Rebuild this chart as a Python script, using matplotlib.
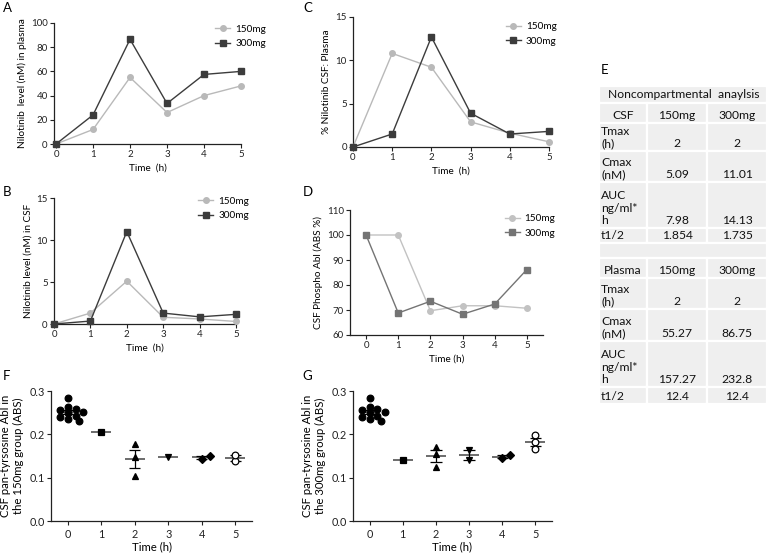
import matplotlib
matplotlib.use('Agg')
import matplotlib.pyplot as plt
from matplotlib.patches import Rectangle
import numpy as np

plt.rcParams['font.family'] = ['Lato', 'DejaVu Sans']

# ---- data ----
hours = [0, 1, 2, 3, 4, 5]
doses = ['150mg', '300mg']

plasma_150 = [0, 12, 55, 26, 40, 48]
plasma_300 = [0, 24, 86.5, 33.5, 57.5, 60]

csf_150 = [0, 1.3, 5.1, 0.8, 0.6, 0.3]
csf_300 = [0, 0.35, 11.0, 1.3, 0.85, 1.15]

ratio_150 = [0, 10.8, 9.2, 2.9, 1.6, 0.6]
ratio_300 = [0, 1.5, 12.7, 3.9, 1.5, 1.8]

phospho_150 = [100, 100, 69.7, 71.7, 71.7, 70.7]
phospho_300 = [100, 68.8, 73.5, 68.3, 72.4, 86.2]

# pan-tyrosine Abl, individual samples per hour
abl_150 = [
    [0.285, 0.262, 0.258, 0.256, 0.251, 0.249, 0.243, 0.240, 0.236, 0.231],
    [0.205],
    [0.178, 0.148, 0.103],
    [0.148],
    [0.144, 0.151],
    [0.139, 0.152],
]
abl_300 = [
    [0.285, 0.262, 0.258, 0.256, 0.251, 0.249, 0.243, 0.240, 0.236, 0.231],
    [0.141],
    [0.170, 0.155, 0.125],
    [0.165, 0.141],
    [0.145, 0.152],
    [0.198, 0.182, 0.166],
]
abl_markers = ['o', 's', '^', 'v', 'D', 'o']

table_rows = [
    ['CSF', '150mg', '300mg'],
    ['Tmax\n(h)', '2', '2'],
    ['Cmax\n(nM)', '5.09', '11.01'],
    ['AUC\nng/ml*\nh', '7.98', '14.13'],
    ['t1/2', '1.854', '1.735'],
    None,
    ['Plasma', '150mg', '300mg'],
    ['Tmax\n(h)', '2', '2'],
    ['Cmax\n(nM)', '55.27', '86.75'],
    ['AUC\nng/ml*\nh', '157.27', '232.8'],
    ['t1/2', '12.4', '12.4'],
]
table_title = 'Noncompartmental  anaylsis'

W, H = 767, 555
fig = plt.figure(figsize=(W / 100, H / 100), dpi=100)


def box(l, t, r, b):
    return fig.add_axes([l / W, 1 - b / H, (r - l) / W, (b - t) / H])


def style(ax, xlabel, ylabel, tick_fs=7, lab_fs=7.2):
    for s in ['top', 'right']:
        ax.spines[s].set_visible(False)
    for s in ['left', 'bottom']:
        ax.spines[s].set_linewidth(0.9)
        ax.spines[s].set_color('#222222')
    ax.tick_params(labelsize=tick_fs, length=3, width=0.8, pad=1.5,
                   colors='#222222')
    ax.set_xlabel(xlabel, fontsize=lab_fs, labelpad=3)
    ax.set_ylabel(ylabel, fontsize=lab_fs, labelpad=3)


def kinetics(ax, y150, y300, c150, c300, legpos):
    ax.plot(hours, y150, '-o', color=c150, ms=4, lw=1, clip_on=False,
            label=doses[0], zorder=3)
    ax.plot(hours, y300, '-s', color=c300, ms=4, lw=1, clip_on=False,
            label=doses[1], zorder=4)
    ax.legend(loc='upper left', bbox_to_anchor=legpos, frameon=False,
              fontsize=7.2, handlelength=1.5, handletextpad=0.5,
              labelspacing=0.55, borderaxespad=0)


light, dark = '#b9b9b9', '#3c3c3c'

# A
ax = box(54, 23, 241, 144)
kinetics(ax, plasma_150, plasma_300, light, dark, (0.84, 1.02))
ax.set_xlim(-0.055, 5)
ax.set_ylim(0, 100)
ax.set_yticks([0, 20, 40, 60, 80, 100])
style(ax, 'Time  (h)', 'Nilotinib  level (nM) in plasma')

# B
ax = box(54, 198, 236, 324)
kinetics(ax, csf_150, csf_300, light, dark, (0.77, 1.04))
ax.set_xlim(0, 5)
ax.set_ylim(0, 15)
ax.set_yticks([0, 5, 10, 15])
style(ax, 'Time  (h)', 'Nilotinib level (nM) in CSF')

# C
ax = box(353, 17, 549, 147)
kinetics(ax, ratio_150, ratio_300, light, dark, (0.76, 0.99))
ax.set_xlim(0, 5)
ax.set_ylim(0, 15)
ax.set_yticks([0, 5, 10, 15])
style(ax, 'Time  (h)', '% Nilotinib CSF: Plasma')

# D
ax = box(350, 210, 543, 335)
kinetics(ax, phospho_150, phospho_300, '#c2c2c2', '#747474', (0.78, 1.0))
ax.set_xlim(-0.5, 5.5)
ax.set_ylim(60, 110)
ax.set_yticks([60, 70, 80, 90, 100, 110])
style(ax, 'Time (h)', 'CSF Phospho Abl (ABS %)')


def swarm(vals, xscale, yscale, d=5.5):
    # simple beeswarm: shift points sideways until they don't overlap
    placed = []
    offs = []
    for v in vals:
        k = 0
        while True:
            cand = [0] if k == 0 else [k, -k]
            done = False
            for c in cand:
                x = c * d * 0.7
                ok = all((x - px) ** 2 + ((v - pv) * yscale) ** 2 >= d * d
                         for px, pv in placed)
                if ok:
                    placed.append((x, v))
                    offs.append(x / xscale)
                    done = True
                    break
            if done:
                break
            k += 1
    return np.array(offs)


def scatter_panel(ax, groups, ylabel):
    xscale = 33.0          # px per hour
    yscale = 130 / 0.3     # px per unit
    for i, vals in enumerate(groups):
        vals = np.array(vals)
        m = vals.mean()
        if len(vals) > 1:
            sem = vals.std(ddof=1) / np.sqrt(len(vals))
        else:
            sem = 0
        offs = swarm(vals, xscale, yscale)
        mk = abl_markers[i]
        face = 'white' if i == 5 else 'black'
        ax.plot(hours[i] + offs, vals, linestyle='none', marker=mk,
                ms=4.8 if mk != 'D' else 4, mfc=face, mec='black',
                mew=0.9, zorder=3)
        ax.hlines(m, hours[i] - 0.3, hours[i] + 0.3, color='#606060',
                  lw=1.3, zorder=2)
        if sem > 0:
            ax.vlines(hours[i], m - sem, m + sem, color='black', lw=0.9,
                      zorder=2)
            ax.hlines([m - sem, m + sem], hours[i] - 0.17, hours[i] + 0.17,
                      color='black', lw=0.9, zorder=2)
    ax.set_xlim(-0.5, 5.5)
    ax.set_ylim(0, 0.3)
    ax.set_xticks(hours)
    ax.set_yticks([0.0, 0.1, 0.2, 0.3])
    ax.set_yticklabels(['0.0', '0.1', '0.2', '0.3'])
    style(ax, 'Time (h)', ylabel, tick_fs=7.8, lab_fs=8.2)
    ax.tick_params(axis='x', pad=3)
    ax.xaxis.labelpad = 1
    ax.yaxis.labelpad = 4


ax = box(51, 391, 252, 521)
scatter_panel(ax, abl_150, 'CSF pan-tyrsosine Abl in\nthe 150mg group (ABS)')

ax = box(353, 391, 552, 521)
scatter_panel(ax, abl_300, 'CSF pan-tyrsosine Abl in\nthe 300mg group (ABS)')

# E: table
ax = box(599, 86, 767, 404)
ax.set_xlim(599, 767)
ax.set_ylim(404, 86)
ax.axis('off')
col_edges = [599, 647, 707, 767]
row_edges = [86, 103, 123, 151, 182, 228, 243, 258, 278, 309, 341, 387, 404]
cell_kw = dict(facecolor='#efefef', edgecolor='white', lw=1.6)
ax.add_patch(Rectangle((599, 86), 168, 17, **cell_kw))
ax.text(684, 95, table_title, ha='center', va='center', fontsize=8.7,
        color='#111111')
for r, row in enumerate(table_rows):
    top, bot = row_edges[r + 1], row_edges[r + 2]
    if row is None:
        ax.add_patch(Rectangle((599, top), 168, bot - top, **cell_kw))
        continue
    header = row[1] == '150mg'
    for c, txt in enumerate(row):
        l, rr = col_edges[c], col_edges[c + 1]
        ax.add_patch(Rectangle((l, top), rr - l, bot - top, **cell_kw))
        if c == 0 and not header:
            ax.text(l + 2, bot - 2, txt, ha='left', va='bottom', fontsize=8.7,
                    linespacing=1.15, color='#111111')
        else:
            ax.text((l + rr) / 2, bot - 2, txt, ha='center', va='bottom',
                    fontsize=8.7, color='#111111')

# panel letters
for letter, (x, y) in {'A': (3, 2), 'B': (3, 186), 'C': (303, 2),
                       'D': (303, 186), 'E': (601, 64), 'F': (3, 370),
                       'G': (302, 370)}.items():
    fig.text(x / W, 1 - y / H, letter, ha='left', va='top', fontsize=9.5)

fig.savefig('out.png', dpi=100)
